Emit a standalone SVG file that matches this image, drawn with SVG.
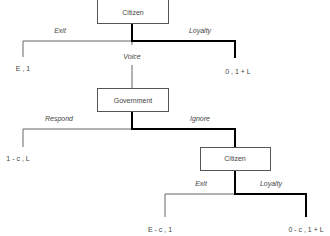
<svg xmlns="http://www.w3.org/2000/svg" width="330" height="236" viewBox="0 0 330 236">
<style>
.box{fill:#fff;stroke:#555;stroke-width:1}
.t{font-family:"Liberation Sans",Arial,sans-serif;font-size:7px;fill:#444;text-anchor:middle}
.i{font-style:italic}
.thin{fill:none;stroke:#666;stroke-width:1}
.thick{fill:none;stroke:#000;stroke-width:2}
</style>
<rect width="330" height="236" fill="#fff"/>
<g id="connectors">
<polyline class="thin" points="132,41 23,41 23,57"/>
<line class="thin" x1="132" y1="41" x2="132" y2="45"/>
<line class="thin" x1="132" y1="65" x2="132" y2="88"/>
<polyline class="thick" points="132,24 132,41 235,41 235,58"/>
<polyline class="thin" points="132,129 23,129 23,147"/>
<polyline class="thick" points="132,112 132,129 235,129 235,147"/>
<polyline class="thin" points="235,194 165,194 165,217"/>
<polyline class="thick" points="235,171 235,194 306,194 306,217"/>
<text class="t i" x="60" y="33">Exit</text>
<text class="t i" x="200" y="33">Loyalty</text>
<text class="t i" x="132" y="59">Voice</text>
<text class="t i" x="59" y="121">Respond</text>
<text class="t i" x="200" y="121">Ignore</text>
<text class="t i" x="201" y="186">Exit</text>
<text class="t i" x="271" y="186">Loyalty</text>
</g>
<g id="citizen1">
<rect class="box" x="97.5" y="-0.5" width="71" height="24"/>
<text class="t" x="133" y="15">Citizen</text>
</g>
<g id="government">
<rect class="box" x="97.5" y="88.5" width="71" height="23"/>
<text class="t" x="133" y="103">Government</text>
</g>
<g id="citizen2">
<rect class="box" x="200.5" y="147.5" width="70" height="23"/>
<text class="t" x="235" y="161">Citizen</text>
</g>
<g id="outcome1"><text class="t" x="23" y="71">E , 1</text></g>
<g id="outcome2"><text class="t" x="238" y="74">0 , 1 + L</text></g>
<g id="outcome3"><text class="t" x="18" y="161">1 - c , L</text></g>
<g id="outcome4"><text class="t" x="160" y="232">E - c , 1</text></g>
<g id="outcome5"><text class="t" x="306" y="232">0 - c , 1 + L</text></g>
</svg>
